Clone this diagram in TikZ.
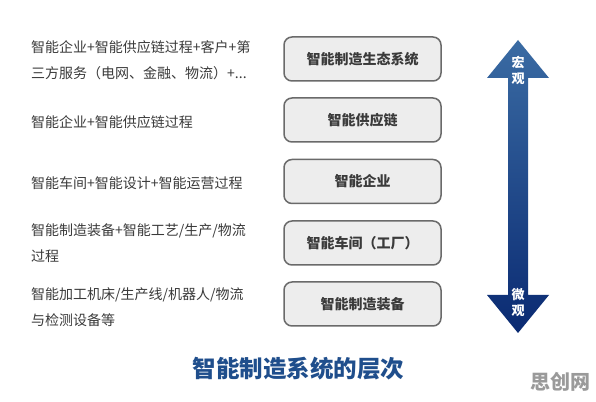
\documentclass[tikz,border=0pt]{standalone}
\usepackage{fontspec}
\setmainfont{Noto Sans CJK SC}
\newfontfamily\cjk{Noto Sans CJK SC}
\definecolor{boxfill}{HTML}{EDEDED}
\definecolor{boxline}{HTML}{6A6A6A}
\definecolor{txt}{HTML}{3A3A3A}
\definecolor{titleblue}{HTML}{1F4E8C}
\definecolor{arrtop}{HTML}{3A6BA3}
\definecolor{arrbot}{HTML}{0A2A72}
\definecolor{wm}{HTML}{9A9A9A}
\begin{document}
\begin{tikzpicture}[x=1pt,y=1pt,
  levelbox/.style={draw=boxline,line width=1.5pt,fill=boxfill,rounded corners=8pt,
    minimum width=157pt,minimum height=44pt,inner sep=0pt,
    font=\cjk\bfseries\fontsize{14}{14}\selectfont,text=txt},
  desc/.style={anchor=west,align=left,inner sep=0pt,text=txt,
    font=\cjk\fontsize{14}{26}\selectfont},
  arrlabel/.style={text=white,align=center,inner sep=0pt,
    font=\cjk\bfseries\fontsize{13}{16}\selectfont}]
\useasboundingbox (0,0) rectangle (596,401);
\fill[white] (0,0) rectangle (596,401);
% boxes
\node[levelbox] (b1) at (362.5,342) {智能制造生态系统};
\node[levelbox] (b2) at (362.5,281) {智能供应链};
\node[levelbox] (b3) at (362.5,219.5) {智能企业};
\node[levelbox] (b4) at (362.5,158) {智能车间（工厂）};
\node[levelbox] (b5) at (362.5,97) {智能制造装备};
% descriptions
\node[desc] (d1) at (31,341) {智能企业+智能供应链过程+客户+第\\三方服务（电网、金融、物流）+...};
\node[desc] (d2) at (31,279) {智能企业+智能供应链过程};
\node[desc] (d3) at (31,218) {智能车间+智能设计+智能运营过程};
\node[desc] (d4) at (31,157.5) {智能制造装备+智能工艺/生产/物流\\过程};
\node[desc] (d5) at (31,93.5) {智能加工机床/生产线/机器人/物流\\与检测设备等};
% double arrow
\coordinate (tipT) at (518,361);
\coordinate (tipB) at (518,68);
\shade[top color=arrtop,bottom color=arrbot]
  (tipT) -- (549,323) -- (528,323) -- (528,106) -- (549,106) -- (tipB)
  -- (487,106) -- (508,106) -- (508,323) -- (487,323) -- cycle;
\node[arrlabel] (macro) at (518,331) {宏\\观};
\node[arrlabel] (micro) at (518,98.5) {微\\观};
% title
\node[inner sep=0pt,text=titleblue,font=\cjk\bfseries\fontsize{23.5}{24}\selectfont] (title) at (298.5,32) {智能制造系统的层次};
% watermark
\node[inner sep=0pt,text=wm,font=\cjk\bfseries\fontsize{20}{20}\selectfont] (wmark) at (560,19) {思创网};
\end{tikzpicture}
\end{document}
